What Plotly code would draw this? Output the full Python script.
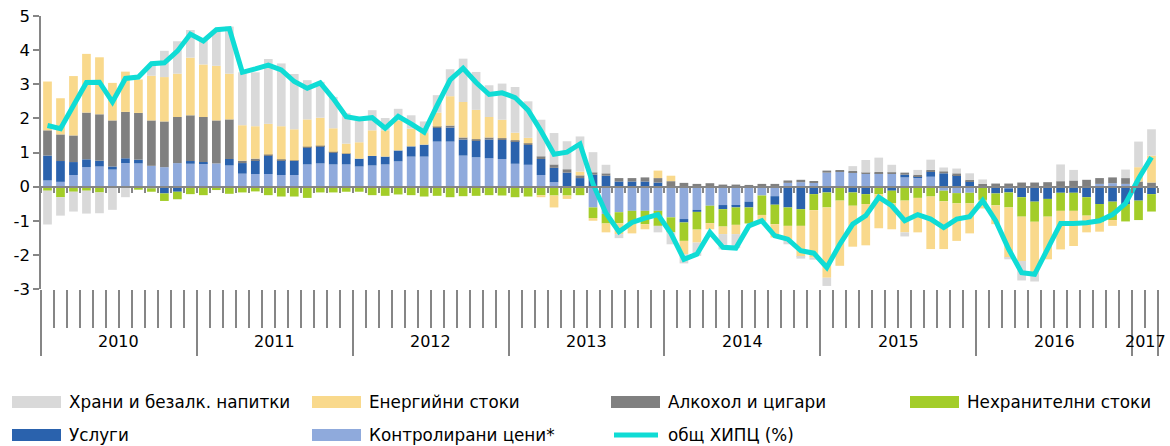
import plotly.graph_objects as go

# ---------------- data ----------------
months = [f"{y}-{m:02d}" for y in range(2010, 2018) for m in range(1, 13)][:86]
years = ["2010", "2011", "2012", "2013", "2014", "2015", "2016", "2017"]
months_per_year = [12, 12, 12, 12, 12, 12, 12, 2]

names = ["Храни и безалк. напитки", "Енергийни стоки", "Алкохол и цигари",
         "Нехранителни стоки", "Услуги", "Контролирани цени*", "общ ХИПЦ (%)"]

admin = [
    0.18, 0.14, 0.34, 0.57, 0.59, 0.50, 0.69, 0.68, 0.61, 0.57, 0.69, 0.67,
    0.68, 0.68, 0.62, 0.38, 0.37, 0.37, 0.34, 0.34, 0.65, 0.68, 0.65, 0.65,
    0.59, 0.62, 0.65, 0.74, 0.88, 0.88, 1.32, 1.32, 0.91, 0.86, 0.83, 0.81,
    0.67, 0.64, 0.34, 0.13, 0.00, 0.00, -0.61, -0.80, -0.75, -0.71, -0.71, -0.71,
    -0.90, -0.95, -0.68, -0.56, -0.54, -0.56, -0.44, -0.26, -0.28, 0.11, 0.13, 0.11,
    0.41, 0.44, 0.42, 0.37, 0.39, 0.37, 0.27, 0.27, 0.29, -0.12, -0.19, -0.18,
    0.00, 0.00, -0.05, 0.00, 0.00, 0.00, 0.00, 0.00, 0.00, 0.08, 0.10, 0.08,
    0.00, 0.00]

services = [
    0.73, 0.61, 0.38, 0.23, 0.17, 0.09, 0.14, 0.11, -0.05, -0.20, -0.15, 0.08,
    0.04, -0.03, 0.19, 0.31, 0.41, 0.54, 0.44, 0.42, 0.50, 0.51, 0.36, 0.31,
    0.23, 0.28, 0.23, 0.32, 0.30, 0.35, 0.40, 0.41, 0.47, 0.49, 0.55, 0.56,
    0.66, 0.58, 0.47, 0.42, 0.41, 0.25, 0.35, 0.32, 0.15, 0.15, 0.15, 0.12,
    0.00, -0.10, -0.06, 0.00, -0.12, -0.05, -0.17, 0.00, -0.25, -0.61, -0.66, -0.22,
    -0.17, 0.00, -0.17, -0.22, 0.00, -0.12, 0.08, 0.04, 0.15, 0.39, 0.34, 0.15,
    0.00, -0.20, -0.12, -0.31, -0.44, -0.36, -0.18, -0.18, -0.31, -0.51, -0.44, -0.51,
    -0.41, -0.22]

nonfood = [
    -0.12, -0.31, -0.15, -0.12, -0.17, -0.03, 0.00, -0.09, -0.10, -0.22, -0.22, -0.22,
    -0.25, -0.07, -0.21, -0.17, -0.14, -0.25, -0.29, -0.29, -0.33, -0.17, -0.17, -0.15,
    -0.15, -0.25, -0.27, -0.23, -0.25, -0.29, -0.27, -0.31, -0.28, -0.27, -0.25, -0.26,
    -0.31, -0.29, -0.25, -0.26, -0.26, -0.25, -0.31, -0.28, -0.32, -0.36, -0.39, -0.44,
    -0.44, -0.54, -0.52, -0.51, -0.51, -0.51, -0.47, -0.57, -0.57, -0.54, -0.49, -0.47,
    -0.44, -0.41, -0.39, -0.29, -0.22, -0.37, -0.41, -0.33, -0.29, -0.31, -0.30, -0.31,
    -0.39, -0.35, -0.44, -0.57, -0.59, -0.52, -0.53, -0.53, -0.54, -0.54, -0.54, -0.51,
    -0.57, -0.51]

alcohol = [
    0.74, 0.78, 0.78, 1.37, 1.36, 1.35, 1.36, 1.37, 1.33, 1.34, 1.35, 1.34,
    1.32, 1.26, 1.16, 0.07, 0.04, 0.03, 0.02, 0.01, 0.02, 0.01, 0.01, 0.01,
    0.00, 0.00, 0.00, 0.00, 0.00, 0.00, 0.04, 0.06, 0.06, 0.04, 0.06, 0.05,
    0.03, 0.05, 0.08, 0.10, 0.10, 0.08, 0.07, 0.07, 0.10, 0.10, 0.12, 0.13,
    0.16, 0.11, 0.08, 0.10, 0.06, 0.06, 0.05, 0.08, 0.08, 0.07, 0.07, 0.05,
    0.06, 0.04, 0.04, 0.04, 0.04, 0.05, 0.06, 0.04, 0.05, 0.06, 0.05, 0.05,
    0.08, 0.09, 0.09, 0.12, 0.12, 0.13, 0.16, 0.18, 0.20, 0.17, 0.17, 0.17,
    0.15, 0.12]

energy = [
    1.43, 1.06, 1.74, 1.72, 1.67, 1.10, 1.18, 0.98, 1.31, 1.30, 1.27, 1.69,
    1.54, 1.60, 1.34, 1.04, 0.95, 0.90, 0.97, 0.91, 0.80, 0.82, 0.69, 0.29,
    0.48, 0.75, 0.77, 0.88, 0.52, 0.34, 0.41, 0.86, 1.04, 0.86, 0.60, 0.54,
    0.22, 0.16, -0.06, -0.35, -0.10, 0.11, -0.08, -0.26, -0.32, -0.30, -0.15, 0.22,
    0.16, -0.39, -0.38, -0.18, -0.22, -0.27, 0.00, -0.19, -0.39, -0.44, -0.91, -1.39,
    -2.06, -1.91, -1.20, -1.21, -1.00, -0.76, -0.93, -1.01, -1.54, -1.40, -1.10, -0.88,
    -0.25, -0.55, -1.47, -1.30, -1.49, -1.25, -1.13, -1.03, -0.49, -0.27, -0.17, 0.00,
    0.42, 0.79]

food = [
    -0.99, -0.54, -0.58, -0.67, -0.61, -0.65, -0.31, 0.00, 0.31, 0.77, 0.95, 0.81,
    0.71, 1.05, 1.38, 1.55, 1.58, 1.90, 1.84, 1.62, 1.15, 1.05, 0.92, 0.89,
    0.64, 0.59, 0.36, 0.34, 0.39, 0.34, 0.51, 0.79, 1.27, 1.11, 0.93, 1.06,
    1.34, 1.07, 1.07, 0.92, 0.82, 1.03, 0.59, 0.25, -0.12, 0.00, 0.00, -0.19,
    -0.35, -0.27, -0.39, 0.00, -0.45, -0.41, 0.00, 0.00, 0.00, -0.10, -0.05, -0.06,
    -0.24, 0.00, 0.14, 0.37, 0.42, 0.22, -0.12, 0.14, 0.30, 0.11, 0.14, 0.19,
    0.13, 0.00, -0.05, -0.57, -0.26, 0.00, 0.49, 0.31, 0.00, 0.00, 0.00, 0.25,
    0.75, 0.77]

cpi = [
    1.79, 1.70, 2.38, 3.05, 3.06, 2.48, 3.17, 3.21, 3.60, 3.63, 3.97, 4.47,
    4.27, 4.60, 4.63, 3.35, 3.45, 3.56, 3.42, 3.08, 2.88, 3.04, 2.58, 2.05,
    1.98, 2.02, 1.71, 2.06, 1.84, 1.60, 2.38, 3.13, 3.47, 3.05, 2.70, 2.75,
    2.61, 2.24, 1.63, 0.95, 1.01, 1.25, 0.08, -0.78, -1.32, -1.05, -0.92, -0.82,
    -1.37, -2.13, -1.98, -1.34, -1.78, -1.80, -1.15, -1.00, -1.44, -1.54, -1.88, -1.95,
    -2.37, -1.69, -1.10, -0.85, -0.31, -0.56, -1.00, -0.82, -0.95, -1.20, -0.95, -0.88,
    -0.41, -1.00, -1.83, -2.52, -2.57, -1.83, -1.08, -1.08, -1.06, -1.00, -0.82, -0.49,
    0.23, 0.86]

y_ticks = [-3, -2, -1, 0, 1, 2, 3, 4, 5]

# ---------------- style ----------------
C_FOOD = "#D9D9D9"
C_ENERGY = "#F9D98C"
C_ALC = "#808080"
C_NONFOOD = "#A3CD29"
C_SERV = "#2A62AD"
C_ADMIN = "#8FAADC"
C_LINE = "#0FDCD5"
AX = "#868686"
FONT = "DejaVu Sans"

W, H = 1170, 446
L, R, T, B = 41, 12, 16, 157
PW, PH = W - L - R, H - T - B

def px(xp):
    return (xp - L) / PW

def py(yp):
    return (H - B - yp) / PH

x = list(range(len(months)))

fig = go.Figure()
# stacking order: first trace sits nearest to zero
stack = [(admin, C_ADMIN, names[5]), (services, C_SERV, names[4]),
         (nonfood, C_NONFOOD, names[3]), (alcohol, C_ALC, names[2]),
         (energy, C_ENERGY, names[1]), (food, C_FOOD, names[0])]
for vals, col, nm in stack:
    fig.add_trace(go.Bar(x=x, y=vals, name=nm, marker=dict(color=col, line=dict(width=0)),
                         customdata=months, hovertemplate="%{customdata}: %{y}<extra>" + nm + "</extra>",
                         showlegend=False))

fig.add_trace(go.Scatter(x=x, y=cpi, name=names[6], mode="lines",
                         line=dict(color=C_LINE, width=5), customdata=months,
                         hovertemplate="%{customdata}: %{y}<extra></extra>",
                         showlegend=False, xaxis="x2", yaxis="y"))

# year boundaries
bounds = [-0.5]
for n in months_per_year:
    bounds.append(bounds[-1] + n)
centers = [(bounds[i] + bounds[i + 1]) / 2 for i in range(len(years))]

annotations = []
for yr, c in zip(years, centers):
    annotations.append(dict(x=c, xref="x", y=py(341), yref="paper", text=yr, showarrow=False,
                            font=dict(family=FONT, size=16, color="#000"), xanchor="center",
                            yanchor="middle"))

# manual legend
shapes = []
legend_items = [
    (0, 0, C_FOOD, "bar"), (0, 1, C_ENERGY, "bar"), (0, 2, C_ALC, "bar"), (0, 3, C_NONFOOD, "bar"),
    (1, 0, C_SERV, "bar"), (1, 1, C_ADMIN, "bar"), (1, 2, C_LINE, "line"),
]
col_x = [12, 312, 611, 910]
row_y = [402, 435]
for (r, c, col, kind), nm in zip(legend_items, names):
    x0 = col_x[c]
    yc = row_y[r]
    if kind == "bar":
        shapes.append(dict(type="rect", xref="paper", yref="paper", x0=px(x0), x1=px(x0 + 49),
                           y0=py(yc + 6), y1=py(yc - 6), fillcolor=col, line=dict(width=0)))
    else:
        shapes.append(dict(type="line", xref="paper", yref="paper", x0=px(x0 + 3), x1=px(x0 + 47),
                           y0=py(yc), y1=py(yc), line=dict(color=col, width=5)))
    annotations.append(dict(x=px(x0 + 55), xref="paper", y=py(yc), yref="paper", text=nm,
                            showarrow=False, xanchor="left", yanchor="middle",
                            font=dict(family=FONT, size=16.8, color="#000")))

fig.update_layout(
    width=W, height=H,
    margin=dict(l=L, r=R, t=T, b=B, pad=0),
    paper_bgcolor="white", plot_bgcolor="white",
    barmode="relative", bargap=0.33,
    font=dict(family=FONT, size=16, color="#000"),
    showlegend=False,
    xaxis=dict(range=[-0.5, 85.5], tickmode="array", tickvals=bounds, ticktext=[""] * len(bounds),
               ticks="outside", ticklen=66, tickwidth=1.5, tickcolor=AX,
               showline=False, showgrid=False, zeroline=False, automargin=False,
               minor=dict(tickmode="linear", tick0=-0.5, dtick=1, ticks="outside", ticklen=38,
                          tickwidth=1.5, tickcolor=AX, showgrid=False)),
    xaxis2=dict(range=[-0.5, 85.5], overlaying="x", anchor="free", position=3 / 8, side="bottom",
                showline=True, linecolor=AX, linewidth=2, ticks="outside", ticklen=5,
                tickwidth=1.5, tickcolor=AX, tickmode="linear", tick0=-0.5, dtick=1,
                showticklabels=False, showgrid=False, zeroline=False, automargin=False),
    yaxis=dict(range=[-3, 5], tickmode="array", tickvals=y_ticks,
               ticktext=[str(v) for v in y_ticks], ticks="outside", ticklen=6, tickwidth=1.5,
               tickcolor=AX, showline=True, linecolor=AX, linewidth=1.5, showgrid=False,
               zeroline=False, automargin=False, tickfont=dict(family=FONT, size=16.5, color="#000")),
    annotations=annotations,
    shapes=shapes,
)

fig.write_html("out.html", config={"displayModeBar": False},
               post_script="document.body.style.margin='0';document.body.style.overflow='hidden';")
